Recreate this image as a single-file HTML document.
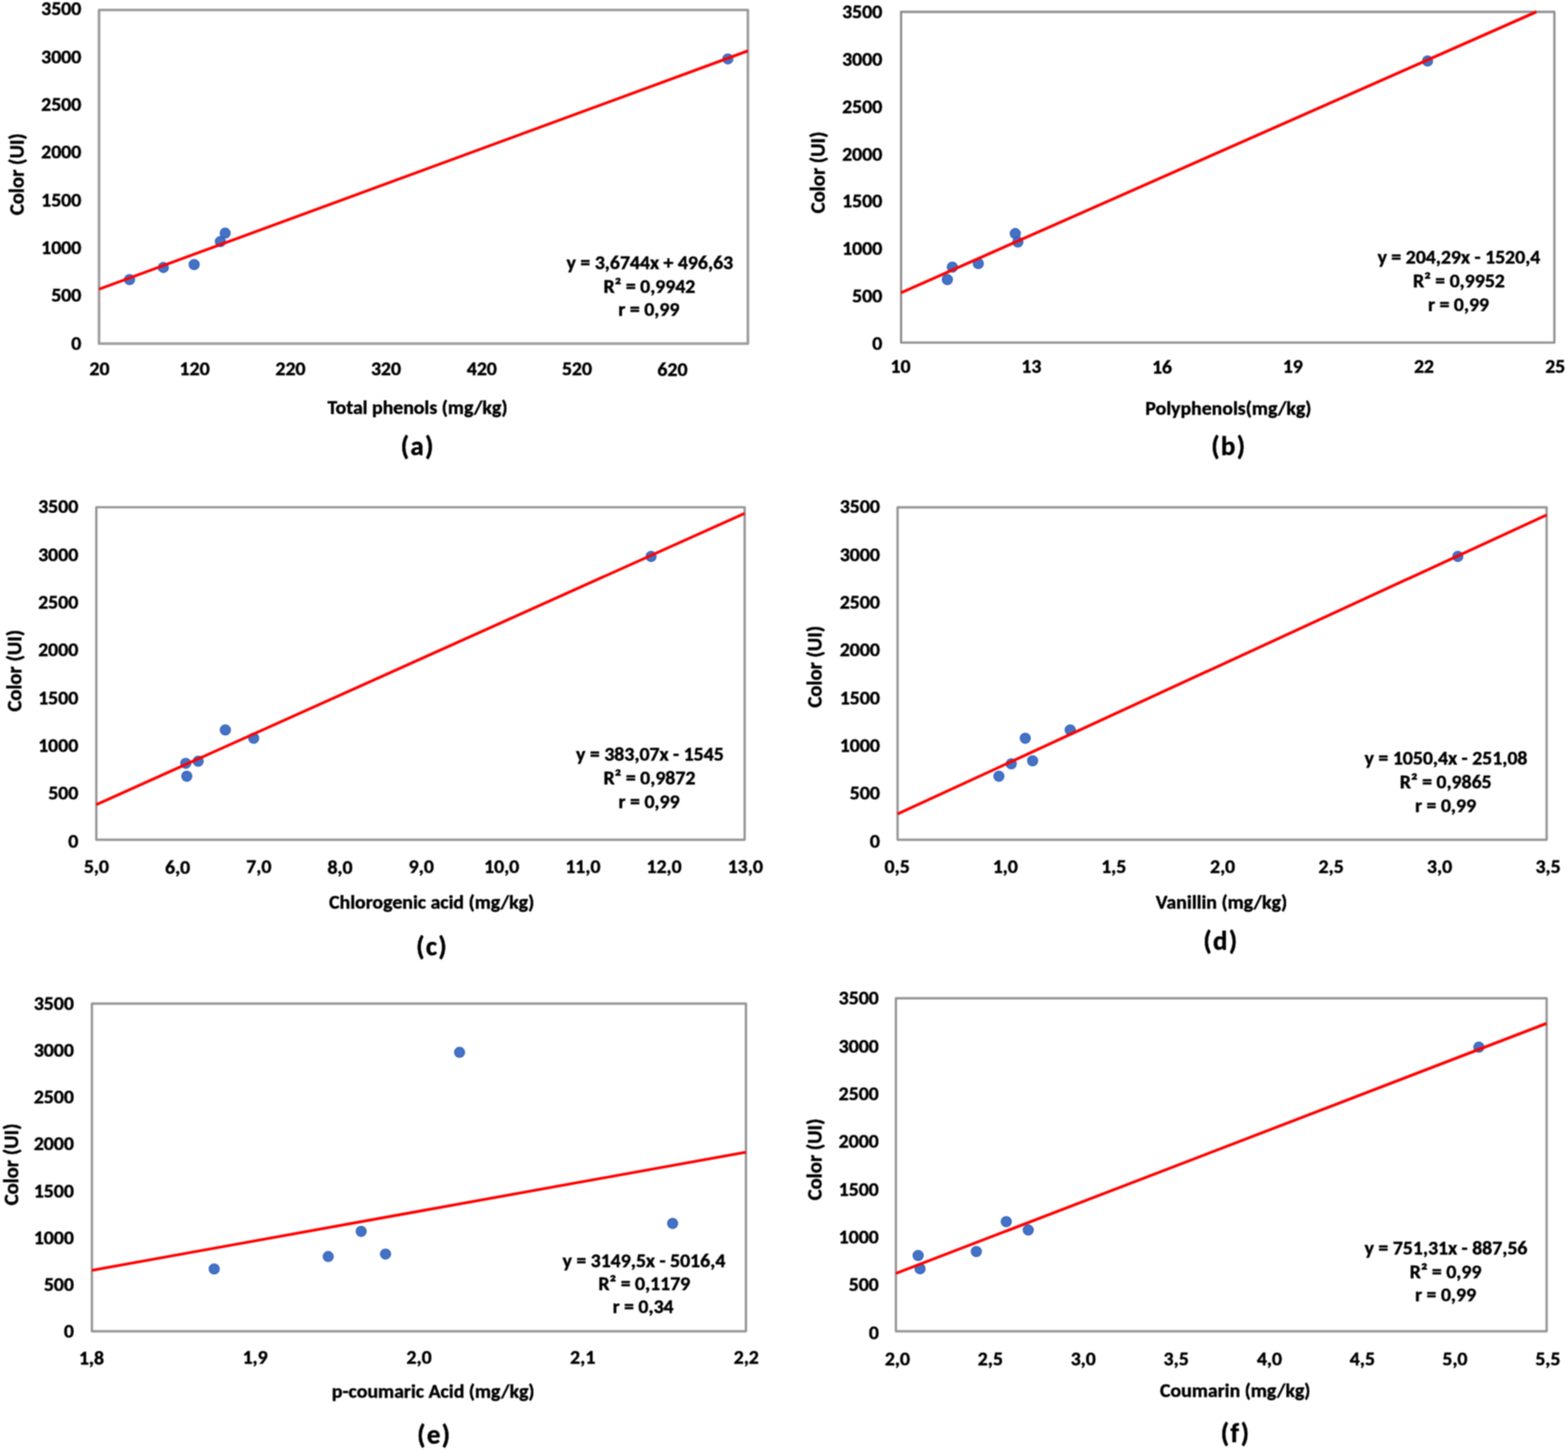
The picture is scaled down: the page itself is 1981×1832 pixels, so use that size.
<!DOCTYPE html>
<html><head><meta charset="utf-8"><title>Figure</title>
<style>
html,body{margin:0;padding:0;background:#fff}
body{width:1981px;height:1832px;overflow:hidden}
svg{display:block}
text{white-space:pre}
.let{letter-spacing:1.7px}
</style></head>
<body>
<svg width="1981" height="1832" viewBox="0 0 1981 1832">
<defs><filter id="bl" x="0" y="0" width="1981" height="1832" filterUnits="userSpaceOnUse" color-interpolation-filters="sRGB"><feConvolveMatrix order="3" kernelMatrix="0.2500 0.5000 0.2500 0.5000 1.0000 0.5000 0.2500 0.5000 0.2500" divisor="4.0000" edgeMode="duplicate" preserveAlpha="false"/></filter></defs>
<rect width="1981" height="1832" fill="#fff"/>
<g filter="url(#bl)">
<rect width="1981" height="1832" fill="#fff"/>
<rect x="125.1" y="12.6" width="819.8" height="421.5" fill="none" stroke="#9c9c9c" stroke-width="3.3" stroke-linejoin="round"/>
<rect x="1138.4" y="15" width="825.4" height="417.9" fill="none" stroke="#8e8e8e" stroke-width="2.8" stroke-linejoin="round"/>
<rect x="121.7" y="640.9" width="819.1" height="420.1" fill="none" stroke="#939393" stroke-width="2.9" stroke-linejoin="round"/>
<rect x="1134" y="641" width="820" height="420" fill="none" stroke="#939393" stroke-width="2.9" stroke-linejoin="round"/>
<rect x="116.1" y="1268" width="826.3" height="414" fill="none" stroke="#939393" stroke-width="2.9" stroke-linejoin="round"/>
<rect x="1131.9" y="1261.3" width="822.1" height="420.7" fill="none" stroke="#939393" stroke-width="2.9" stroke-linejoin="round"/>
<g fill="#4472c4" stroke="#2f5fbd" stroke-width="1.2">
<circle cx="163.7" cy="353.3" r="6.4"/>
<circle cx="206.4" cy="337.9" r="6.4"/>
<circle cx="245.3" cy="334.3" r="6.4"/>
<circle cx="278.4" cy="305.2" r="6.4"/>
<circle cx="284.5" cy="294.6" r="6.4"/>
<circle cx="919.6" cy="74.4" r="6.4"/>
<circle cx="1196.9" cy="353.2" r="6.4"/>
<circle cx="1203.2" cy="337.5" r="6.4"/>
<circle cx="1236" cy="333" r="6.4"/>
<circle cx="1282.7" cy="295.1" r="6.4"/>
<circle cx="1286" cy="305.7" r="6.4"/>
<circle cx="1803.6" cy="77" r="6.4"/>
<circle cx="234.7" cy="964.4" r="6.4"/>
<circle cx="236" cy="980.8" r="6.4"/>
<circle cx="250.4" cy="961.8" r="6.4"/>
<circle cx="284.7" cy="922.2" r="6.4"/>
<circle cx="320.5" cy="932.8" r="6.4"/>
<circle cx="822.6" cy="703" r="6.4"/>
<circle cx="1262" cy="980.8" r="6.4"/>
<circle cx="1277.6" cy="965.1" r="6.4"/>
<circle cx="1295.3" cy="932.8" r="6.4"/>
<circle cx="1304.6" cy="961.3" r="6.4"/>
<circle cx="1352.1" cy="922.2" r="6.4"/>
<circle cx="1841.8" cy="703" r="6.4"/>
<circle cx="270.6" cy="1603.3" r="6.4"/>
<circle cx="414.7" cy="1587.6" r="6.4"/>
<circle cx="456.3" cy="1555.8" r="6.4"/>
<circle cx="487.1" cy="1584.4" r="6.4"/>
<circle cx="580.6" cy="1329.6" r="6.4"/>
<circle cx="849.8" cy="1545.8" r="6.4"/>
<circle cx="1160" cy="1586.2" r="6.4"/>
<circle cx="1162.4" cy="1603" r="6.4"/>
<circle cx="1233.5" cy="1581.3" r="6.4"/>
<circle cx="1271.3" cy="1543.5" r="6.4"/>
<circle cx="1299.1" cy="1554.1" r="6.4"/>
<circle cx="1868.4" cy="1323" r="6.4"/>
</g>
<g stroke="#ff0000" stroke-width="3.6">
<line x1="125.1" y1="365.4" x2="944.9" y2="64.3"/>
<line x1="1138.4" y1="369.8" x2="1941" y2="15"/>
<line x1="121.7" y1="1016.6" x2="940.8" y2="648.6"/>
<line x1="1134" y1="1028.4" x2="1954" y2="650.6"/>
<line x1="116.1" y1="1605" x2="942.4" y2="1455.7"/>
<line x1="1131.9" y1="1608.9" x2="1954" y2="1293"/>
</g>
<g font-weight="700" fill="#000" stroke="#000" stroke-width="0.5" style="font-family:Carlito, &quot;Liberation Sans&quot;, sans-serif">
<text x="102.7" y="441.8" font-size="25" text-anchor="end">0</text>
<text x="102.7" y="381.46" font-size="25" text-anchor="end">500</text>
<text x="102.7" y="321.12" font-size="25" text-anchor="end">1000</text>
<text x="102.7" y="260.78" font-size="25" text-anchor="end">1500</text>
<text x="102.7" y="200.44" font-size="25" text-anchor="end">2000</text>
<text x="102.7" y="140.1" font-size="25" text-anchor="end">2500</text>
<text x="102.7" y="79.76" font-size="25" text-anchor="end">3000</text>
<text x="102.7" y="19.42" font-size="25" text-anchor="end">3500</text>
<text x="125.7" y="474" font-size="25" text-anchor="middle">20</text>
<text x="245.85" y="474" font-size="25" text-anchor="middle">120</text>
<text x="367" y="474" font-size="25" text-anchor="middle">220</text>
<text x="487.65" y="474" font-size="25" text-anchor="middle">320</text>
<text x="608.8" y="474" font-size="25" text-anchor="middle">420</text>
<text x="728.95" y="474" font-size="25" text-anchor="middle">520</text>
<text x="849.6" y="475" font-size="25" text-anchor="middle">620</text>
<text x="527.5" y="523.05" font-size="25" text-anchor="middle">Total phenols (mg/kg)</text>
<text x="821" y="339.7" font-size="25" text-anchor="middle">y = 3,6744x + 496,63</text>
<text x="820.5" y="369.7" font-size="25" text-anchor="middle">R² = 0,9942</text>
<text x="819.8" y="399.25" font-size="25" text-anchor="middle">r = 0,99</text>
<text x="30.2" y="220" font-size="26" text-anchor="middle" transform="rotate(-90 30.2 220)">Color (UI)</text>
<text x="527.8" y="575.2" font-size="34" text-anchor="middle" class="let">(a)</text>
<text x="1114.6" y="442" font-size="25" text-anchor="end">0</text>
<text x="1114.6" y="382.16" font-size="25" text-anchor="end">500</text>
<text x="1114.6" y="322.32" font-size="25" text-anchor="end">1000</text>
<text x="1114.6" y="262.48" font-size="25" text-anchor="end">1500</text>
<text x="1114.6" y="202.64" font-size="25" text-anchor="end">2000</text>
<text x="1114.6" y="142.8" font-size="25" text-anchor="end">2500</text>
<text x="1114.6" y="82.96" font-size="25" text-anchor="end">3000</text>
<text x="1114.6" y="23.12" font-size="25" text-anchor="end">3500</text>
<text x="1137.7" y="470.7" font-size="25" text-anchor="middle">10</text>
<text x="1302.92" y="470.7" font-size="25" text-anchor="middle">13</text>
<text x="1468.14" y="471.7" font-size="25" text-anchor="middle">16</text>
<text x="1633.36" y="470.7" font-size="25" text-anchor="middle">19</text>
<text x="1799.08" y="470.7" font-size="25" text-anchor="middle">22</text>
<text x="1964.8" y="470.7" font-size="25" text-anchor="middle">25</text>
<text x="1552" y="523.5" font-size="25" text-anchor="middle">Polyphenols(mg/kg)</text>
<text x="1843.2" y="333.15" font-size="25" text-anchor="middle">y = 204,29x - 1520,4</text>
<text x="1843.2" y="363.35" font-size="25" text-anchor="middle">R² = 0,9952</text>
<text x="1842.7" y="392.95" font-size="25" text-anchor="middle">r = 0,99</text>
<text x="1042.2" y="217.8" font-size="26" text-anchor="middle" transform="rotate(-90 1042.2 217.8)">Color (UI)</text>
<text x="1552.6" y="575.2" font-size="34" text-anchor="middle" class="let">(b)</text>
<text x="98.9" y="1070.8" font-size="25" text-anchor="end">0</text>
<text x="98.9" y="1010.44" font-size="25" text-anchor="end">500</text>
<text x="98.9" y="950.08" font-size="25" text-anchor="end">1000</text>
<text x="98.9" y="889.72" font-size="25" text-anchor="end">1500</text>
<text x="98.9" y="829.36" font-size="25" text-anchor="end">2000</text>
<text x="98.9" y="769" font-size="25" text-anchor="end">2500</text>
<text x="98.9" y="708.64" font-size="25" text-anchor="end">3000</text>
<text x="98.9" y="648.28" font-size="25" text-anchor="end">3500</text>
<text x="121.8" y="1103.3" font-size="25" text-anchor="middle">5,0</text>
<text x="224.4" y="1104.3" font-size="25" text-anchor="middle">6,0</text>
<text x="327" y="1103.3" font-size="25" text-anchor="middle">7,0</text>
<text x="429.6" y="1104.3" font-size="25" text-anchor="middle">8,0</text>
<text x="532.2" y="1103.3" font-size="25" text-anchor="middle">9,0</text>
<text x="633.8" y="1103.3" font-size="25" text-anchor="middle">10,0</text>
<text x="736.4" y="1103.3" font-size="25" text-anchor="middle">11,0</text>
<text x="839" y="1103.3" font-size="25" text-anchor="middle">12,0</text>
<text x="941.6" y="1103.3" font-size="25" text-anchor="middle">13,0</text>
<text x="545.4" y="1148.2" font-size="25" text-anchor="middle">Chlorogenic acid (mg/kg)</text>
<text x="821.1" y="961.2" font-size="25" text-anchor="middle">y = 383,07x - 1545</text>
<text x="820.6" y="990.9" font-size="25" text-anchor="middle">R² = 0,9872</text>
<text x="820.1" y="1020.55" font-size="25" text-anchor="middle">r = 0,99</text>
<text x="27.1" y="847.4" font-size="26" text-anchor="middle" transform="rotate(-90 27.1 847.4)">Color (UI)</text>
<text x="545.9" y="1207.45" font-size="34" text-anchor="middle" class="let">(c)</text>
<text x="1111.6" y="1070.8" font-size="25" text-anchor="end">0</text>
<text x="1111.6" y="1010.44" font-size="25" text-anchor="end">500</text>
<text x="1111.6" y="950.08" font-size="25" text-anchor="end">1000</text>
<text x="1111.6" y="889.72" font-size="25" text-anchor="end">1500</text>
<text x="1111.6" y="829.36" font-size="25" text-anchor="end">2000</text>
<text x="1111.6" y="769" font-size="25" text-anchor="end">2500</text>
<text x="1111.6" y="708.64" font-size="25" text-anchor="end">3000</text>
<text x="1111.6" y="648.28" font-size="25" text-anchor="end">3500</text>
<text x="1133.5" y="1103.3" font-size="25" text-anchor="middle">0,5</text>
<text x="1270.05" y="1103.3" font-size="25" text-anchor="middle">1,0</text>
<text x="1407.1" y="1103.3" font-size="25" text-anchor="middle">1,5</text>
<text x="1544.65" y="1103.3" font-size="25" text-anchor="middle">2,0</text>
<text x="1681.7" y="1103.3" font-size="25" text-anchor="middle">2,5</text>
<text x="1818.75" y="1103.3" font-size="25" text-anchor="middle">3,0</text>
<text x="1955.8" y="1103.3" font-size="25" text-anchor="middle">3,5</text>
<text x="1543.3" y="1147.9" font-size="25" text-anchor="middle">Vanillin (mg/kg)</text>
<text x="1826.9" y="966.3" font-size="25" text-anchor="middle">y = 1050,4x - 251,08</text>
<text x="1826.5" y="996" font-size="25" text-anchor="middle">R² = 0,9865</text>
<text x="1826.3" y="1025.55" font-size="25" text-anchor="middle">r = 0,99</text>
<text x="1037.8" y="842.3" font-size="26" text-anchor="middle" transform="rotate(-90 1037.8 842.3)">Color (UI)</text>
<text x="1542.6" y="1199.5" font-size="34" text-anchor="middle" class="let">(d)</text>
<text x="93.4" y="1690.4" font-size="25" text-anchor="end">0</text>
<text x="93.4" y="1631.17" font-size="25" text-anchor="end">500</text>
<text x="93.4" y="1571.94" font-size="25" text-anchor="end">1000</text>
<text x="93.4" y="1512.71" font-size="25" text-anchor="end">1500</text>
<text x="93.4" y="1453.48" font-size="25" text-anchor="end">2000</text>
<text x="93.4" y="1394.25" font-size="25" text-anchor="end">2500</text>
<text x="93.4" y="1335.02" font-size="25" text-anchor="end">3000</text>
<text x="93.4" y="1275.79" font-size="25" text-anchor="end">3500</text>
<text x="115.6" y="1724.3" font-size="25" text-anchor="middle">1,8</text>
<text x="322.3" y="1723.3" font-size="25" text-anchor="middle">1,9</text>
<text x="529.5" y="1723.3" font-size="25" text-anchor="middle">2,0</text>
<text x="736.2" y="1723.3" font-size="25" text-anchor="middle">2,1</text>
<text x="942.9" y="1723.3" font-size="25" text-anchor="middle">2,2</text>
<text x="547.3" y="1766.15" font-size="25" text-anchor="middle">p-coumaric Acid (mg/kg)</text>
<text x="813.5" y="1601.15" font-size="25" text-anchor="middle">y = 3149,5x - 5016,4</text>
<text x="814" y="1629.8" font-size="25" text-anchor="middle">R² = 0,1179</text>
<text x="812.5" y="1659.45" font-size="25" text-anchor="middle">r = 0,34</text>
<text x="23.3" y="1471.1" font-size="26" text-anchor="middle" transform="rotate(-90 23.3 1471.1)">Color (UI)</text>
<text x="548.7" y="1823.65" font-size="34" text-anchor="middle" class="let">(e)</text>
<text x="1110.3" y="1691.5" font-size="25" text-anchor="end">0</text>
<text x="1110.3" y="1631.21" font-size="25" text-anchor="end">500</text>
<text x="1110.3" y="1570.92" font-size="25" text-anchor="end">1000</text>
<text x="1110.3" y="1510.63" font-size="25" text-anchor="end">1500</text>
<text x="1110.3" y="1450.34" font-size="25" text-anchor="end">2000</text>
<text x="1110.3" y="1390.05" font-size="25" text-anchor="end">2500</text>
<text x="1110.3" y="1329.76" font-size="25" text-anchor="end">3000</text>
<text x="1110.3" y="1269.47" font-size="25" text-anchor="end">3500</text>
<text x="1133.8" y="1724.5" font-size="25" text-anchor="middle">2,0</text>
<text x="1251.19" y="1724.5" font-size="25" text-anchor="middle">2,5</text>
<text x="1368.58" y="1724.5" font-size="25" text-anchor="middle">3,0</text>
<text x="1485.97" y="1724.5" font-size="25" text-anchor="middle">3,5</text>
<text x="1603.86" y="1724.5" font-size="25" text-anchor="middle">4,0</text>
<text x="1721.25" y="1724.5" font-size="25" text-anchor="middle">4,5</text>
<text x="1838.14" y="1724.5" font-size="25" text-anchor="middle">5,0</text>
<text x="1955.53" y="1724.5" font-size="25" text-anchor="middle">5,5</text>
<text x="1560.6" y="1764.9" font-size="25" text-anchor="middle">Coumarin (mg/kg)</text>
<text x="1826.9" y="1585" font-size="25" text-anchor="middle">y = 751,31x - 887,56</text>
<text x="1826.3" y="1614.7" font-size="25" text-anchor="middle">R² = 0,99</text>
<text x="1826.3" y="1644.35" font-size="25" text-anchor="middle">r = 0,99</text>
<text x="1037.8" y="1464.8" font-size="26" text-anchor="middle" transform="rotate(-90 1037.8 1464.8)">Color (UI)</text>
<text x="1561" y="1821.75" font-size="34" text-anchor="middle" class="let">(f)</text>
</g>
</g>
</svg>
</body></html>
